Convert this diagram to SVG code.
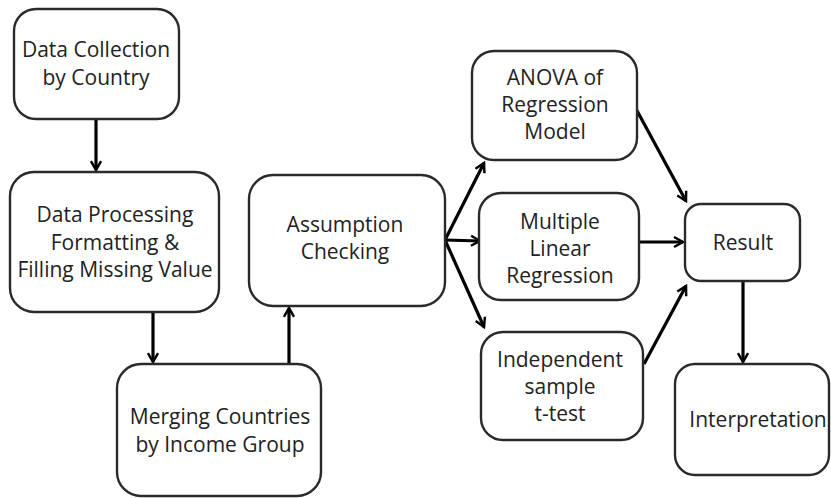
<svg xmlns="http://www.w3.org/2000/svg" width="831" height="498" viewBox="0 0 831 498">
<style>
.box{fill:#fff;stroke:#2a2a2a;stroke-width:2.4}
.lbl{font-family:"Open Sans","DejaVu Sans",sans-serif;font-size:21px;fill:#222;text-anchor:middle}
.con{fill:none;stroke:#000;stroke-width:3.2;marker-end:url(#ah)}
</style>
<defs>
<marker id="ah" viewBox="0 0 12 12" refX="10" refY="6" markerWidth="4.2" markerHeight="4.2" markerUnits="strokeWidth" orient="auto">
<path d="M2,1.5 L10,6 L2,10.5" fill="none" stroke="#000" stroke-width="2.2" stroke-linejoin="miter"/>
</marker>
</defs>
<rect width="831" height="498" fill="#fff"/>
<g id="connectors">
<line class="con" x1="96" y1="120" x2="96" y2="170"/>
<line class="con" x1="153" y1="312" x2="153" y2="362"/>
<line class="con" x1="289" y1="364" x2="289" y2="308"/>
<line class="con" x1="445" y1="240" x2="484" y2="163"/>
<line class="con" x1="445" y1="240" x2="480" y2="241"/>
<line class="con" x1="445" y1="240" x2="484" y2="327"/>
<line class="con" x1="635" y1="107" x2="686" y2="201"/>
<line class="con" x1="639" y1="242" x2="683" y2="242"/>
<line class="con" x1="644" y1="364" x2="686" y2="286"/>
<line class="con" x1="743" y1="281" x2="743" y2="362"/>
</g>
<g id="data-collection">
<rect class="box" x="14" y="9" width="165" height="110" rx="22"/>
<text class="lbl" x="96" y="57">Data Collection</text>
<text class="lbl" x="96" y="85">by Country</text>
</g>
<g id="data-processing">
<rect class="box" x="10" y="172" width="209" height="140" rx="24"/>
<text class="lbl" x="115" y="222">Data Processing</text>
<text class="lbl" x="115" y="250">Formatting &amp;</text>
<text class="lbl" x="115" y="277">Filling Missing Value</text>
</g>
<g id="merging">
<rect class="box" x="117" y="364" width="204" height="132" rx="24"/>
<text class="lbl" x="220" y="424">Merging Countries</text>
<text class="lbl" x="220" y="452">by Income Group</text>
</g>
<g id="assumption">
<rect class="box" x="249" y="175" width="196" height="131" rx="24"/>
<text class="lbl" x="345" y="232">Assumption</text>
<text class="lbl" x="345" y="259">Checking</text>
</g>
<g id="anova">
<rect class="box" x="472" y="51" width="165" height="109" rx="22"/>
<text class="lbl" x="555" y="85">ANOVA of</text>
<text class="lbl" x="555" y="112">Regression</text>
<text class="lbl" x="555" y="139">Model</text>
</g>
<g id="mlr">
<rect class="box" x="479" y="193" width="160" height="107" rx="22"/>
<text class="lbl" x="560" y="229">Multiple</text>
<text class="lbl" x="560" y="256">Linear</text>
<text class="lbl" x="560" y="283">Regression</text>
</g>
<g id="ttest">
<rect class="box" x="481" y="332" width="162" height="108" rx="22"/>
<text class="lbl" x="560" y="367">Independent</text>
<text class="lbl" x="560" y="394">sample</text>
<text class="lbl" x="560" y="421">t-test</text>
</g>
<g id="result">
<rect class="box" x="685" y="204" width="115" height="77" rx="16"/>
<text class="lbl" x="743" y="250">Result</text>
</g>
<g id="interpretation">
<rect class="box" x="675" y="364" width="154" height="111" rx="20"/>
<text class="lbl" x="758" y="427">Interpretation</text>
</g>
</svg>
